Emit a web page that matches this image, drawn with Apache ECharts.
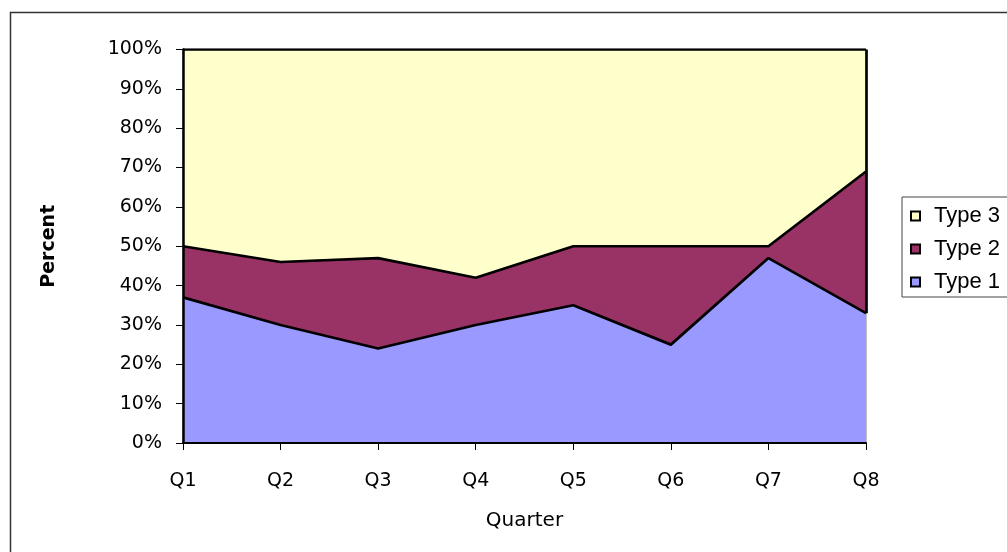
<!DOCTYPE html>
<html>
<head>
<meta charset="utf-8">
<script src="https://cdn.jsdelivr.net/npm/echarts@6/dist/echarts.min.js"></script>
<style>
html,body{margin:0;padding:0;background:#fff;}
#chart{width:1007px;height:552px;}
</style>
</head>
<body>
<div id="chart"></div>
<script>
var categories = ['Q1','Q2','Q3','Q4','Q5','Q6','Q7','Q8'];
var type1 = [37, 30, 24, 30, 35, 25, 47, 33];
var type2 = [13, 16, 23, 12, 15, 25, 3, 36];
var type3 = [50, 54, 53, 58, 50, 50, 50, 31];
var seriesNames = ['Type 1','Type 2','Type 3'];
var colors = ['#9999FF','#993366','#FFFFCC'];

var chart = echarts.init(document.getElementById('chart'), null, {renderer:'canvas'});
var lastIdx = categories.length - 1;
function areaSeries(name, data, color, extra) {
  var s = {
    name: name,
    type: 'line',
    stack: 'total',
    data: data,
    symbol: 'none',
    itemStyle: {color: color},
    lineStyle: {color: '#000', width: 2.7},
    areaStyle: {color: color, opacity: 1},
    z: 2
  };
  if (extra) { for (var k in extra) s[k] = extra[k]; }
  return s;
}
var option = {
  animation: false,
  backgroundColor: '#fff',
  graphic: [{
    type: 'rect', left: 8, top: 10, silent: true,
    shape: {width: 1100, height: 600},
    style: {fill: 'none', stroke: '#333', lineWidth: 1.5}
  }],
  grid: {left: 183, right: 141, top: 49.5, bottom: 109, show: true, borderColor: '#808080', borderWidth: 1},
  legend: {
    orient: 'vertical',
    left: 902, top: 197,
    data: ['Type 3','Type 2','Type 1'],
    icon: 'rect',
    itemWidth: 9, itemHeight: 9,
    itemGap: 11,
    padding: [8, 40, 4, 8],
    borderColor: '#444', borderWidth: 1,
    itemStyle: {borderColor: '#000', borderWidth: 2},
    textStyle: {fontFamily: 'Liberation Sans', fontSize: 22, color: '#000', lineHeight: 22, padding: [0,0,0,9]}
  },
  xAxis: {
    type: 'category',
    data: categories,
    boundaryGap: false,
    name: 'Quarter',
    nameLocation: 'middle',
    nameGap: 68,
    nameTextStyle: {fontFamily: 'DejaVu Sans', fontSize: 20, color: '#000'},
    axisLine: {lineStyle: {color: '#000', width: 2}},
    axisTick: {show: true, length: 7, lineStyle: {color: '#000', width: 1}},
    axisLabel: {fontFamily: 'DejaVu Sans', fontSize: 19, color: '#000', margin: 29},
    splitLine: {show: false},
    z: 5
  },
  yAxis: {
    type: 'value',
    min: 0, max: 100, interval: 10,
    name: 'Percent',
    nameLocation: 'middle',
    nameGap: 124,
    nameTextStyle: {fontFamily: 'DejaVu Sans', fontSize: 19, fontWeight: 'bold', color: '#000'},
    axisLine: {show: true, lineStyle: {color: '#000', width: 2.5}},
    axisTick: {show: true, length: 7, lineStyle: {color: '#000', width: 1}},
    axisLabel: {fontFamily: 'DejaVu Sans', fontSize: 19, color: '#000', margin: 21, formatter: '{value}%'},
    splitLine: {show: false},
    z: 5
  },
  series: [
    areaSeries(seriesNames[0], type1, colors[0]),
    areaSeries(seriesNames[1], type2, colors[1]),
    areaSeries(seriesNames[2], type3, colors[2], {
      markLine: {
        silent: true,
        symbol: ['none','none'],
        label: {show: false},
        lineStyle: {color: '#000', width: 2.7, type: 'solid'},
        data: [[{coord: [categories[lastIdx], type1[lastIdx]]}, {coord: [categories[lastIdx], 100]}]]
      }
    })
  ]
};
chart.setOption(option);
</script>
</body>
</html>
